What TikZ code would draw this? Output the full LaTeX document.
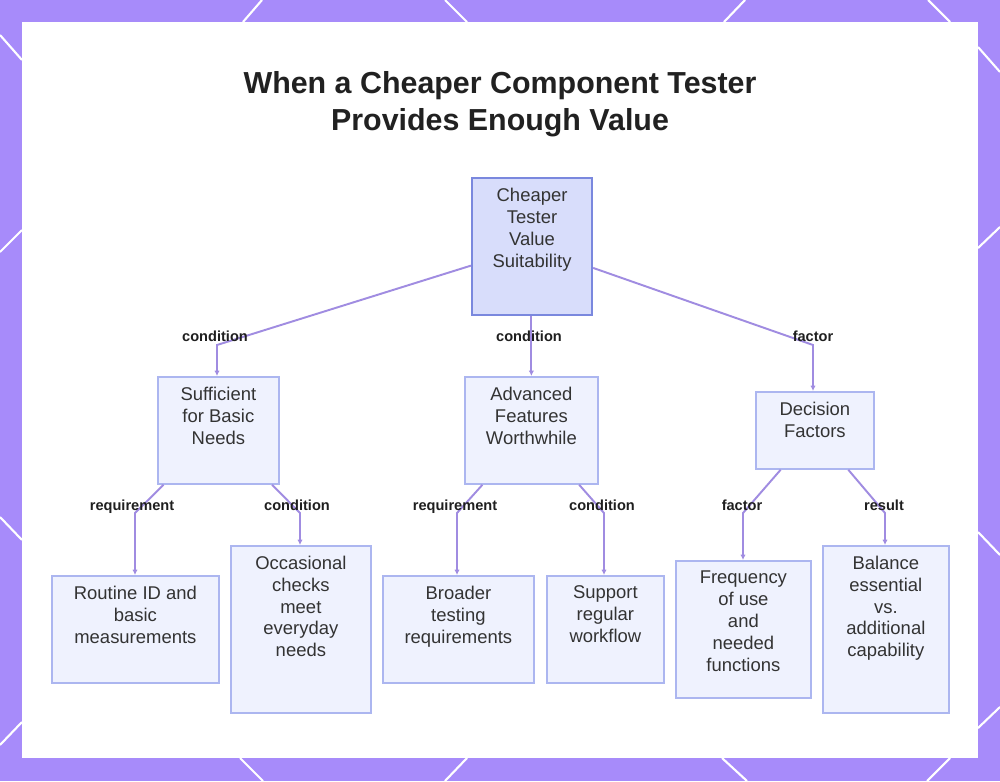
\documentclass[tikz,border=0pt]{standalone}
\usepackage{fontspec}
\setmainfont{Liberation Sans}
\usetikzlibrary{arrows.meta}
\definecolor{framecol}{RGB}{167,139,250}
\definecolor{conncol}{RGB}{160,140,225}
\definecolor{rootfill}{RGB}{216,221,251}
\definecolor{rootdraw}{RGB}{122,136,222}
\definecolor{leaffill}{RGB}{239,242,254}
\definecolor{leafdraw}{RGB}{172,182,240}
\definecolor{txtcol}{RGB}{51,51,51}
\newlength\pxu \setlength\pxu{0.02cm}
\newcommand\boxtxt[3]{\parbox[c][#2\pxu][t]{#1\pxu}{\centering\vspace*{5.6pt}#3}}
\begin{document}
\begin{tikzpicture}[x=0.02cm,y=-0.02cm,
  leafbox/.style={draw=leafdraw, fill=leaffill, line width=1pt, inner sep=0pt, anchor=north west, text=txtcol, font=\fontsize{10.5}{12.5}\selectfont},
  rootbox/.style={leafbox, draw=rootdraw, fill=rootfill, line width=1.2pt},
  conn/.style={draw=conncol, line width=1.1pt, -{Latex[length=3pt,width=3pt]}},
  lbl/.style={font=\fontsize{8.3}{10}\selectfont\bfseries, text=black!88, inner sep=1pt, text height=6.3pt, text depth=1.7pt},
  deco/.style={draw=white, line width=1.2pt}]
\useasboundingbox (0,0) rectangle (1000,781);
\fill[framecol] (0,0) rectangle (1000,781);
% frame decoration lines
\draw[deco] (262,0) -- (243,22);
\draw[deco] (445,0) -- (467,22);
\draw[deco] (745,0) -- (724,22);
\draw[deco] (928,0) -- (950,22);
\draw[deco] (0,35) -- (22,60);
\draw[deco] (0,252) -- (22,230);
\draw[deco] (0,517) -- (22,540);
\draw[deco] (0,745) -- (22,722);
\draw[deco] (978,47) -- (1000,72);
\draw[deco] (978,248) -- (1000,227);
\draw[deco] (978,532) -- (1000,555);
\draw[deco] (978,728) -- (1000,707);
\draw[deco] (240,758) -- (263,781);
\draw[deco] (467,758) -- (445,781);
\draw[deco] (722,758) -- (747,781);
\draw[deco] (950,758) -- (927,781);
% panel
\fill[white] (22,22) rectangle (978,758);
% title
\node[font=\fontsize{17.3}{21}\selectfont\bfseries, text=black!87, align=center] (title) at (500,104) {When a Cheaper Component Tester\\Provides Enough Value};
% nodes
\node[rootbox] (root) at (471,177) {\boxtxt{120}{137}{Cheaper\\Tester\\Value\\Suitability}};
\node[leafbox] (suff) at (157,376) {\boxtxt{121}{107}{Sufficient\\for Basic\\Needs}};
\node[leafbox] (adv) at (464,376) {\boxtxt{133}{107}{Advanced\\Features\\Worthwhile}};
\node[leafbox] (dec) at (755,391) {\boxtxt{118}{77}{Decision\\Factors}};
\node[leafbox] (rout) at (51,575) {\boxtxt{167}{107}{Routine ID and\\basic\\measurements}};
\node[leafbox] (occ) at (230,545) {\boxtxt{140}{167}{Occasional\\checks\\meet\\everyday\\needs}};
\node[leafbox] (broad) at (382,575) {\boxtxt{151}{107}{Broader\\testing\\requirements}};
\node[leafbox] (supp) at (546,575) {\boxtxt{117}{107}{Support\\regular\\workflow}};
\node[leafbox] (freq) at (675,560) {\boxtxt{135}{137}{Frequency\\of use\\and\\needed\\functions}};
\node[leafbox] (bal) at (822,545) {\boxtxt{126}{167}{Balance\\essential\\vs.\\additional\\capability}};
% bends
\coordinate (b1) at (217,345);
\coordinate (b3) at (813,345);
\coordinate (c1) at (135,513);
\coordinate (c2) at (300,513);
\coordinate (c3) at (457,513);
\coordinate (c4) at (604,513);
\coordinate (c5) at (743,513);
\coordinate (c6) at (885,513);
% connectors
\draw[conn] (root) -- (b1) -- (suff.north -| b1);
\draw[conn] (root.south -| adv.north) -- (adv.north);
\draw[conn] (root) -- (b3) -- (dec.north -| b3);
\draw[conn] (suff) -- (c1) -- (rout.north -| c1);
\draw[conn] (suff) -- (c2) -- (occ.north -| c2);
\draw[conn] (adv) -- (c3) -- (broad.north -| c3);
\draw[conn] (adv) -- (c4) -- (supp.north -| c4);
\draw[conn] (dec) -- (c5) -- (freq.north -| c5);
\draw[conn] (dec) -- (c6) -- (bal.north -| c6);
% labels
\node[lbl] (l1) at (215,337) {condition};
\node[lbl] (l2) at (529,337) {condition};
\node[lbl] (l3) at (813,337) {factor};
\node[lbl] (l4) at (132,506) {requirement};
\node[lbl] (l5) at (297,506) {condition};
\node[lbl] (l6) at (455,506) {requirement};
\node[lbl] (l7) at (602,506) {condition};
\node[lbl] (l8) at (742,506) {factor};
\node[lbl] (l9) at (884,506) {result};
\end{tikzpicture}
\end{document}
